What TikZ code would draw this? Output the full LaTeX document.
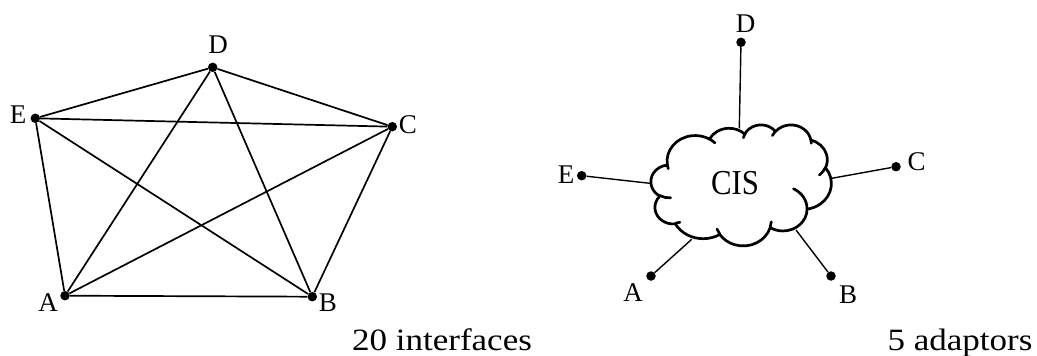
\documentclass[tikz,border=0pt]{standalone}
\usepackage{fontspec}
\setmainfont{Liberation Serif}
\newfontfamily\widefont{Liberation Serif}[FakeStretch=1.13]
\newfontfamily\cisfont{Liberation Serif}[FakeStretch=0.88]
\tikzset{
  dot/.style={circle,fill=black,inner sep=0pt,minimum size=9.5pt},
  lbl/.style={inner sep=0pt,font=\fontsize{27}{29}\selectfont},
  edge/.style={line width=1.7pt},
  spoke/.style={line width=1.4pt},
  caption/.style={inner sep=0pt,anchor=base,font=\widefont\fontsize{31}{34}\selectfont},
  cloudline/.style={line width=2.7pt,line join=round,line cap=round}
}
\begin{document}
\begin{tikzpicture}[x=1pt,y=-1pt]
\useasboundingbox (0,0) rectangle (1037,356);
% left: full mesh
\node[dot] (pD) at (212.7,67.3) {};
\node[dot] (pE) at (35.3,118.3) {};
\node[dot] (pC) at (392.3,126.7) {};
\node[dot] (pA) at (65,295.7) {};
\node[dot] (pB) at (312.3,296.7) {};
\node[lbl] (lD) at (218,45) {D};
\node[lbl] (lE) at (18,115) {E};
\node[lbl] (lC) at (408,125) {C};
\node[lbl] (lA) at (48,303) {A};
\node[lbl] (lB) at (328,303) {B};
\foreach \a/\b in {pA/pB,pA/pC,pA/pD,pA/pE,pB/pC,pB/pD,pB/pE,pC/pD,pC/pE,pD/pE}
  \draw[edge] (\a) -- (\b);
\node[caption] (cap1) at (442,350.5) {20 interfaces};
% right: hub
\node[dot] (qD) at (741,42.3) {};
\node[dot] (qE) at (581.7,175.7) {};
\node[dot] (qC) at (896,166.7) {};
\node[dot] (qA) at (651,276) {};
\node[dot] (qB) at (831,276) {};
\coordinate (eD) at (739.3,128.3);
\coordinate (eE) at (650,183.3);
\coordinate (eC) at (831.7,178.3);
\coordinate (eA) at (691.7,239.3);
\coordinate (eB) at (796,230);
\draw[spoke] (qD) -- (eD);
\draw[spoke] (qE) -- (eE);
\draw[spoke] (qC) -- (eC);
\draw[spoke] (qA) -- (eA);
\draw[spoke] (qB) -- (eB);
\begin{scope}[shift={(651,124.5)},xscale=0.41736,yscale=0.28009]
% cloud outline
\draw[cloudline] (39.00,143.70)
  \foreach \w/\h/\s/\d [evaluate=\s as \ta using {atan2(\w*sin(\s),\h*cos(\s))},
     evaluate=\s as \dt using {mod(atan2(\w*sin(\s+\d),\h*cos(\s+\d))-atan2(\w*sin(\s),\h*cos(\s))+720,360)}]
  in {67.53/91.90/-190.4875/123.7805, 53.33/72.67/-144.1024/89.9452,
      43.65/59.45/-145.8079/99.7230, 48.57/65.95/-130.9861/117.2417,
      53.33/72.73/-78.7089/109.0269, 67.75/92.20/-46.2673/130.2690,
      57.85/78.67/0.6250/114.0333, 67.52/92.15/22.4516/115.1726,
      77.20/105.43/66.2426/75.7110, 43.60/59.18/-274.9421/146.7356,
      43.45/59.45/-246.8285/152.5170}
  { arc[x radius=\w, y radius=\h, start angle=\ta, delta angle=\dt] } -- cycle;
% inner curls
\draw[cloudline]
  \foreach \x/\y/\w/\h/\s/\d [evaluate=\s as \ta using {atan2(\w*sin(\s),\h*cos(\s))},
     evaluate=\s as \dt using {mod(atan2(\w*sin(\s+\d),\h*cos(\s+\d))-atan2(\w*sin(\s),\h*cos(\s))+720,360)}]
  in {46.93/261.77/43.45/59.45/86.7420/26.4295,
      69.28/348.99/43.60/59.18/73.6105/11.4475,
      164.78/390.90/67.52/92.15/137.6242/14.0811,
      288.27/347.51/67.52/92.15/6.4533/15.9984,
      341.29/229.54/57.85/78.67/-70.2924/70.9174,
      417.98/153.54/53.33/72.73/30.3180/27.7515,
      383.24/54.26/48.57/65.95/-13.7443/14.8589,
      290.78/39.52/48.57/65.95/-149.1815/18.1954,
      221.41/47.20/43.65/59.45/-163.4943/17.6864,
      140.00/51.92/67.53/91.90/-66.7070/12.3194,
      41.27/157.89/67.53/91.90/157.6544/11.8582}
  { (\x,\y) arc[x radius=\w, y radius=\h, start angle=\ta, delta angle=\dt] };
\end{scope}
\node[inner sep=0pt,font=\cisfont\fontsize{35}{38}\selectfont] (cis) at (735,183.3) {CIS};
\node[lbl] (mD) at (745.7,23.3) {D};
\node[lbl] (mE) at (566,175) {E};
\node[lbl] (mC) at (916.7,161.7) {C};
\node[lbl] (mA) at (633,293) {A};
\node[lbl] (mB) at (848,295) {B};
\node[caption] (cap2) at (960,350) {5 adaptors};
\end{tikzpicture}
\end{document}
